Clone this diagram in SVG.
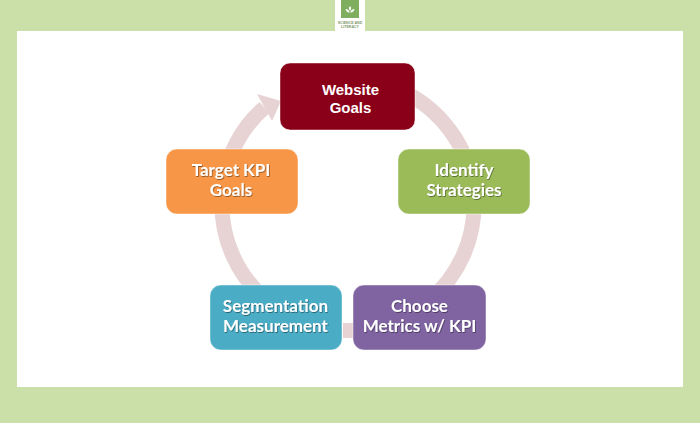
<svg xmlns="http://www.w3.org/2000/svg" width="700" height="423" viewBox="0 0 700 423">
<defs>
<filter id="ts" x="-10%" y="-20%" width="120%" height="140%"><feDropShadow dx="0.7" dy="0.9" stdDeviation="0.6" flood-color="#000" flood-opacity="0.45"/></filter>
</defs>
<style>
.n{stroke:#fff;stroke-opacity:.45;stroke-width:1}
.t{font-family:"Lato","Carlito","Open Sans",sans-serif;font-weight:700;font-size:17px;fill:#fff;text-anchor:middle;filter:url(#ts)}
.a{font-family:"Liberation Sans",Arial,sans-serif;font-weight:700;font-size:15px;fill:#fff;text-anchor:middle}
.c{fill:none;stroke:#e8d3d4;stroke-width:15}
.l{font-family:"Liberation Sans",Arial,sans-serif;font-size:3.6px;font-weight:700;fill:#7f9a6a;text-anchor:middle}
</style>
<rect width="700" height="423" fill="#cbdfa9"/>
<rect x="17" y="31" width="666" height="356" fill="#fff"/>
<g id="logo">
<rect x="335" y="0" width="30" height="31" fill="#fff"/>
<rect x="341" y="0" width="18" height="18" fill="#7fae5f"/>
<path d="M350 6c1.500 1.500 1.500 3 0 5c-1.500-2-1.500-3.500 0-5zM345.500 9c2 0 3.500 1 4.300 3.500c-2.300 .3-3.800-1-4.300-3.500zM354.500 9c-2 0-3.500 1-4.300 3.500c2.300 .3 3.800-1 4.300-3.500z" fill="#fff"/>
<text class="l" x="350" y="24">SCIENCE AND</text>
<text class="l" x="350" y="28">LITERACY</text>
</g>
<g id="connectors">
<path class="c" d="M395 88A126 126 0 0 1 472 180"/>
<path class="c" d="M474 200A126 126 0 0 1 430 300"/>
<rect x="343" y="323" width="10" height="15" fill="#e8d3d4"/>
<path class="c" d="M222 200A126 126 0 0 0 266 300"/>
<path class="c" d="M224 180A126 126 0 0 1 264.500 107.500"/>
<path d="M257 94L281 101L272 121Z" fill="#e8d3d4"/>
</g>
<g id="website-goals">
<rect class="n" x="280" y="63" width="135" height="67" rx="10" fill="#8a0018"/>
<text class="a" x="350.500" y="95">Website</text>
<text class="a" x="350.500" y="113">Goals</text>
</g>
<g id="identify-strategies">
<rect class="n" x="398" y="149" width="132" height="65" rx="11" fill="#9bbb59"/>
<text class="t" x="464" y="176">Identify</text>
<text class="t" x="464" y="196">Strategies</text>
</g>
<g id="choose-metrics">
<rect class="n" x="353" y="285" width="133" height="65" rx="11" fill="#8064a2"/>
<text class="t" x="419.500" y="312">Choose</text>
<text class="t" x="419.500" y="332">Metrics w/ KPI</text>
</g>
<g id="segmentation-measurement">
<rect class="n" x="210" y="285" width="132" height="65" rx="11" fill="#4bacc6"/>
<text class="t" x="275.500" y="312">Segmentation</text>
<text class="t" x="275.500" y="332">Measurement</text>
</g>
<g id="target-kpi-goals">
<rect class="n" x="166" y="149" width="132" height="65" rx="11" fill="#f79646"/>
<text class="t" x="231" y="176">Target KPI</text>
<text class="t" x="231" y="196">Goals</text>
</g>
</svg>
